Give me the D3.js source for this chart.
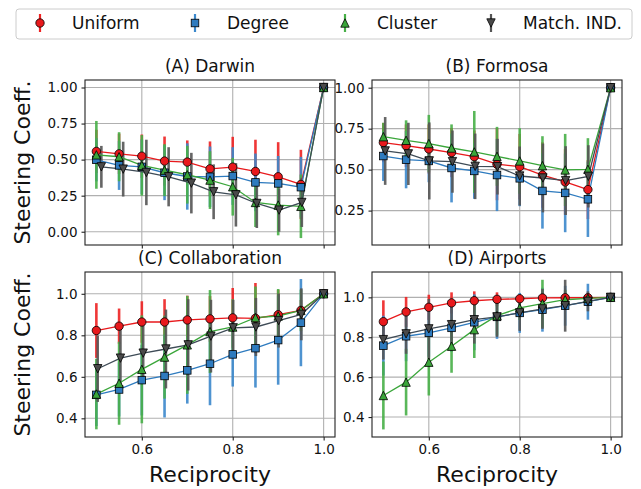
<!DOCTYPE html>
<html>
<head>
<meta charset="utf-8">
<script src="https://cdn.jsdelivr.net/npm/d3@7"></script>
<style>
  body { margin: 0; background: #fff; }
  text { font-family: "DejaVu Sans", sans-serif; fill: #111; }
</style>
</head>
<body>
<svg id="chart" width="641" height="489"></svg>
<script>
// ---------------- data ----------------
const reciprocity = [0.5, 0.55, 0.6, 0.65, 0.7, 0.75, 0.8, 0.85, 0.9, 0.95, 1.0];
const seriesNames = ["Uniform", "Degree", "Cluster", "Match. IND."];
const panelTitles = ["(A) Darwin", "(B) Formosa", "(C) Collaboration", "(D) Airports"];
const xTicks = [0.6, 0.8, 1.0];
const yTicksTop = [0.0, 0.25, 0.5, 0.75, 1.0];
const yTicksBottom = [0.4, 0.6, 0.8, 1.0];

// (A) Darwin
const uniformA = [0.557, 0.540, 0.524, 0.490, 0.483, 0.436, 0.448, 0.418, 0.381, 0.328, 1.0];
const uniformAErr = [0.15, 0.14, 0.15, 0.17, 0.15, 0.19, 0.21, 0.22, 0.24, 0.24, 0];
const degreeA = [0.499, 0.460, 0.450, 0.409, 0.383, 0.381, 0.386, 0.342, 0.335, 0.309, 1.0];
const degreeAErr = [0.15, 0.17, 0.19, 0.19, 0.23, 0.21, 0.20, 0.20, 0.19, 0.21, 0];
const clusterA = [0.533, 0.520, 0.460, 0.427, 0.395, 0.358, 0.312, 0.203, 0.185, 0.176, 1.0];
const clusterAErr = [0.235, 0.17, 0.21, 0.18, 0.20, 0.20, 0.20, 0.17, 0.21, 0.22, 0];
const matchA = [0.450, 0.434, 0.411, 0.381, 0.337, 0.277, 0.256, 0.196, 0.150, 0.203, 1.0];
const matchAErr = [0.145, 0.19, 0.227, 0.205, 0.21, 0.19, 0.22, 0.17, 0.15, 0.17, 0];
const matchAX = [0.511, 0.559, 0.610, 0.659, 0.709, 0.758, 0.807, 0.853, 0.902, 0.952, 1.0];

// (B) Formosa
const uniformB = [0.665, 0.646, 0.626, 0.604, 0.579, 0.533, 0.518, 0.467, 0.425, 0.378, 1.0];
const uniformBErr = [0.12, 0.13, 0.15, 0.15, 0.16, 0.22, 0.20, 0.20, 0.20, 0.18, 0];
const degreeB = [0.583, 0.561, 0.553, 0.510, 0.492, 0.467, 0.447, 0.370, 0.358, 0.319, 1.0];
const degreeBErr = [0.152, 0.175, 0.13, 0.21, 0.17, 0.22, 0.17, 0.23, 0.24, 0.23, 0];
const clusterB = [0.701, 0.679, 0.659, 0.632, 0.608, 0.581, 0.553, 0.524, 0.498, 0.502, 1.0];
const clusterBErr = [0.085, 0.122, 0.175, 0.144, 0.25, 0.18, 0.20, 0.18, 0.22, 0.19, 0];
const matchB = [0.614, 0.596, 0.553, 0.549, 0.520, 0.518, 0.461, 0.449, 0.433, 0.459, 1.0];
const matchBErr = [0.207, 0.19, 0.235, 0.19, 0.20, 0.17, 0.18, 0.21, 0.21, 0.19, 0];
const matchBX = [0.504, 0.555, 0.601, 0.652, 0.702, 0.751, 0.800, 0.851, 0.901, 0.951, 1.0];

// (C) Collaboration
const uniformC = [0.823, 0.844, 0.864, 0.864, 0.874, 0.879, 0.884, 0.882, 0.899, 0.920, 1.0];
const uniformCErr = [0.132, 0.085, 0.10, 0.11, 0.117, 0.11, 0.144, 0.17, 0.12, 0.05, 0];
const degreeC = [0.513, 0.539, 0.584, 0.604, 0.631, 0.663, 0.708, 0.738, 0.777, 0.861, 1.0];
const degreeCErr = [0.15, 0.13, 0.17, 0.20, 0.16, 0.20, 0.155, 0.19, 0.215, 0.21, 0];
const clusterC = [0.517, 0.569, 0.636, 0.695, 0.754, 0.818, 0.840, 0.885, 0.893, 0.920, 1.0];
const clusterCErr = [0.17, 0.20, 0.26, 0.20, 0.236, 0.20, 0.134, 0.15, 0.13, 0.10, 0];
const matchC = [0.639, 0.690, 0.714, 0.734, 0.754, 0.796, 0.836, 0.840, 0.871, 0.901, 1.0];
const matchCErr = [0.16, 0.15, 0.14, 0.19, 0.22, 0.175, 0.135, 0.14, 0.13, 0.125, 0];
const matchCX = [0.503, 0.553, 0.603, 0.653, 0.702, 0.752, 0.801, 0.851, 0.901, 0.951, 1.0];

// (D) Airports
const uniformD = [0.878, 0.927, 0.950, 0.972, 0.983, 0.990, 0.993, 0.997, 0.998, 0.998, 1.0];
const uniformDErr = [0.107, 0.075, 0.063, 0.053, 0.047, 0.035, 0.02, 0.02, 0.02, 0.02, 0];
const degreeD = [0.758, 0.805, 0.822, 0.847, 0.875, 0.902, 0.922, 0.938, 0.958, 0.978, 1.0];
const degreeDErr = [0.15, 0.125, 0.12, 0.12, 0.14, 0.11, 0.10, 0.11, 0.10, 0.09, 0];
const clusterD = [0.508, 0.575, 0.675, 0.755, 0.838, 0.908, 0.947, 0.968, 0.988, 0.995, 1.0];
const clusterDErr = [0.17, 0.167, 0.167, 0.133, 0.142, 0.10, 0.06, 0.12, 0.05, 0.02, 0];
const matchD = [0.788, 0.817, 0.842, 0.863, 0.888, 0.902, 0.922, 0.942, 0.958, 0.980, 1.0];
const matchDErr = [0.10, 0.10, 0.15, 0.13, 0.12, 0.10, 0.09, 0.10, 0.13, 0.05, 0];
const matchDX = reciprocity;

// ---------------- styles ----------------
const styles = [
  { line: "#e8191c", fill: "#e8191c", bar: "#ee2222", shape: "circle" },
  { line: "#2e7bbf", fill: "#2e7bbf", bar: "#3b88cc", shape: "square" },
  { line: "#3aa63a", fill: "#3aa63a", bar: "#48b048", shape: "triangle" },
  { line: "#3e4b56", fill: "#4a4a4a", bar: "#555555", shape: "triangleDown" }
];

const panels = [
  { title: panelTitles[0], x0: 85, y0: 80, yDomain: [-0.092, 1.052], yTicks: yTicksTop, fmt: ".2f", showX: false, ylabel: true,
    series: [[reciprocity, uniformA, uniformAErr], [reciprocity, degreeA, degreeAErr], [reciprocity, clusterA, clusterAErr], [matchAX, matchA, matchAErr]] },
  { title: panelTitles[1], x0: 372, y0: 80, yDomain: [0.04, 1.047], yTicks: yTicksTop.filter(d => d > 0), fmt: ".2f", showX: false, ylabel: false,
    series: [[reciprocity, uniformB, uniformBErr], [reciprocity, degreeB, degreeBErr], [reciprocity, clusterB, clusterBErr], [matchBX, matchB, matchBErr]] },
  { title: panelTitles[2], x0: 85, y0: 272, yDomain: [0.31, 1.105], yTicks: yTicksBottom, fmt: ".1f", showX: true, ylabel: true,
    series: [[reciprocity, uniformC, uniformCErr], [reciprocity, degreeC, degreeCErr], [reciprocity, clusterC, clusterCErr], [matchCX, matchC, matchCErr]] },
  { title: panelTitles[3], x0: 372, y0: 272, yDomain: [0.30, 1.127], yTicks: yTicksBottom, fmt: ".1f", showX: true, ylabel: false,
    series: [[reciprocity, uniformD, uniformDErr], [reciprocity, degreeD, degreeDErr], [reciprocity, clusterD, clusterDErr], [matchDX, matchD, matchDErr]] }
];

const W = 250, H = 165;
const svg = d3.select("#chart");

function drawMarker(g, shape, cx, cy, fill) {
  const s = 4.2;
  let el;
  if (shape === "circle") {
    el = g.append("circle").attr("cx", cx).attr("cy", cy).attr("r", s);
  } else if (shape === "square") {
    el = g.append("rect").attr("x", cx - s * 0.9).attr("y", cy - s * 0.9).attr("width", s * 1.8).attr("height", s * 1.8);
  } else if (shape === "triangle") {
    el = g.append("path").attr("d", `M${cx},${cy - s}L${cx + s},${cy + s}L${cx - s},${cy + s}Z`);
  } else {
    el = g.append("path").attr("d", `M${cx},${cy + s}L${cx + s},${cy - s}L${cx - s},${cy - s}Z`);
  }
  el.attr("fill", fill).attr("stroke", "#000").attr("stroke-width", 0.8);
}

panels.forEach(p => {
  const x = d3.scaleLinear().domain([0.475, 1.025]).range([p.x0, p.x0 + W]);
  const y = d3.scaleLinear().domain(p.yDomain).range([p.y0 + H, p.y0]);
  const g = svg.append("g");

  // grid
  g.selectAll(".gx").data(xTicks).enter().append("line")
    .attr("x1", d => x(d)).attr("x2", d => x(d)).attr("y1", p.y0).attr("y2", p.y0 + H)
    .attr("stroke", "#b0b0b0").attr("stroke-width", 1.1);
  g.selectAll(".gy").data(p.yTicks).enter().append("line")
    .attr("y1", d => y(d)).attr("y2", d => y(d)).attr("x1", p.x0).attr("x2", p.x0 + W)
    .attr("stroke", "#b0b0b0").attr("stroke-width", 1.1);

  const clip = g.append("g");
  // error bars
  p.series.forEach((s, i) => {
    const [xs, ys, es] = s;
    ys.forEach((v, j) => {
      if (es[j] <= 0) return;
      clip.append("line")
        .attr("x1", x(xs[j])).attr("x2", x(xs[j]))
        .attr("y1", Math.max(p.y0, y(v + es[j]))).attr("y2", Math.min(p.y0 + H, y(v - es[j])))
        .attr("stroke", styles[i].bar).attr("stroke-width", 2.6).attr("opacity", 0.9);
    });
  });
  // lines
  p.series.forEach((s, i) => {
    const [xs, ys] = s;
    const line = d3.line().x((d, j) => x(xs[j])).y(d => y(d));
    clip.append("path").datum(ys).attr("d", line)
      .attr("fill", "none").attr("stroke", styles[i].line).attr("stroke-width", 1.3);
  });
  // markers
  p.series.forEach((s, i) => {
    const [xs, ys] = s;
    ys.forEach((v, j) => drawMarker(clip, styles[i].shape, x(xs[j]), y(v), styles[i].fill));
  });

  // axes
  const xa = d3.axisBottom(x).tickValues(xTicks).tickSize(3.5).tickPadding(4)
    .tickFormat(p.showX ? d3.format(".1f") : () => "");
  const ya = d3.axisLeft(y).tickValues(p.yTicks).tickSize(3.5).tickPadding(4).tickFormat(d3.format(p.fmt));
  const gx = g.append("g").attr("transform", `translate(0,${p.y0 + H})`).call(xa);
  const gy = g.append("g").attr("transform", `translate(${p.x0},0)`).call(ya);
  [gx, gy].forEach(a => {
    a.select(".domain").remove();
    a.selectAll("line").attr("stroke", "#222").attr("stroke-width", 1.1);
    a.selectAll("text").attr("font-size", 13.5).attr("fill", "#111").style("font-family", "DejaVu Sans");
  });
  // frame
  g.append("rect").attr("x", p.x0).attr("y", p.y0).attr("width", W).attr("height", H)
    .attr("fill", "none").attr("stroke", "#222").attr("stroke-width", 1.1);

  // title
  g.append("text").attr("x", p.x0 + W / 2).attr("y", p.y0 - 8).attr("text-anchor", "middle")
    .attr("font-size", 17).text(p.title);

  if (p.ylabel) {
    g.append("text").attr("transform", `translate(30,${p.y0 + H / 2}) rotate(-90)`)
      .attr("text-anchor", "middle").attr("font-size", 22).text("Steering Coeff.");
  }
  if (p.showX) {
    g.append("text").attr("x", p.x0 + W / 2).attr("y", p.y0 + H + 45).attr("text-anchor", "middle")
      .attr("font-size", 22).text("Reciprocity");
  }
});

// legend
const lg = svg.append("g");
lg.append("rect").attr("x", 16).attr("y", 9).attr("width", 616).attr("height", 30).attr("rx", 3)
  .attr("fill", "#fff").attr("stroke", "#cccccc").attr("stroke-width", 1);
const legendX = [40, 195, 345, 491];
seriesNames.forEach((name, i) => {
  const cx = legendX[i], cy = 23;
  lg.append("line").attr("x1", cx).attr("x2", cx).attr("y1", cy - 9).attr("y2", cy + 9)
    .attr("stroke", styles[i].bar).attr("stroke-width", 2.2);
  drawMarker(lg, styles[i].shape, cx, cy, styles[i].fill);
  lg.append("text").attr("x", cx + 32).attr("y", cy + 6).attr("font-size", 17).text(name);
});
</script>
</body>
</html>
